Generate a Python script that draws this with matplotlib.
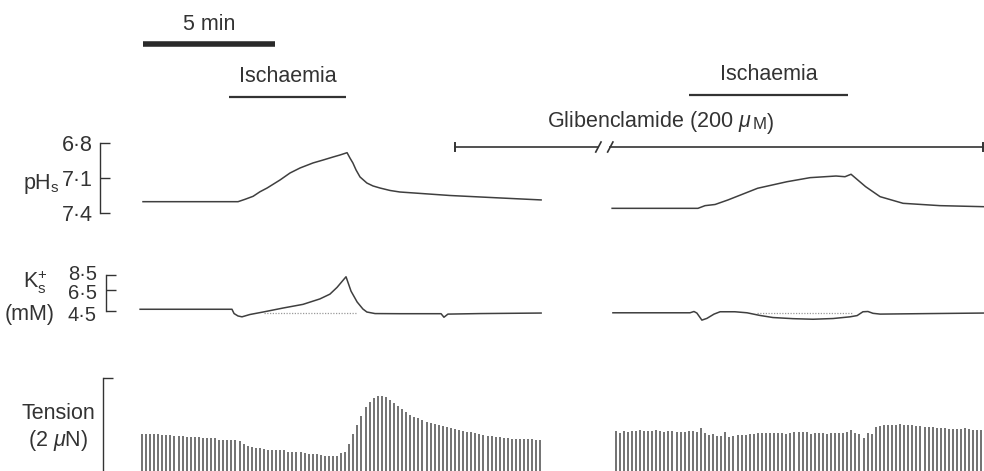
import numpy as np
import matplotlib.pyplot as plt
from matplotlib.ticker import NullLocator

plt.rcParams['font.family'] = ['Liberation Sans', 'DejaVu Sans']
plt.rcParams['mathtext.fontset'] = 'custom'
plt.rcParams['mathtext.rm'] = 'Liberation Sans'
plt.rcParams['mathtext.it'] = 'Liberation Sans:italic'

INK = '#333333'
FS = 15.5

# surface pH (time in min, record broken between control and glibenclamide runs)
ph_t1 = [0.0, 3.60, 3.86, 4.17, 4.43, 4.70, 5.19, 5.57, 5.95, 6.44, 6.82, 7.20, 7.46, 7.73,
         7.84, 7.95, 8.07, 8.22, 8.48, 8.71, 8.98, 9.36, 9.73, 11.63, 13.52, 15.08]
ph_v1 = [7.303, 7.303, 7.283, 7.257, 7.218, 7.186, 7.117, 7.057, 7.014, 6.971, 6.946, 6.920, 6.903, 6.883,
         6.929, 6.971, 7.031, 7.091, 7.143, 7.168, 7.186, 7.207, 7.220, 7.250, 7.271, 7.288]
ph_t2 = [17.77, 21.02, 21.29, 21.67, 22.16, 23.28, 24.39, 25.27, 26.25, 26.59, 26.82, 27.37, 27.92, 28.79, 30.19, 31.86]
ph_v2 = [7.360, 7.360, 7.337, 7.327, 7.288, 7.188, 7.132, 7.097, 7.083, 7.089, 7.068, 7.174, 7.260, 7.317, 7.337, 7.346]

# surface K+ (mM)
k_t1 = [-0.11, 3.37, 3.45, 3.60, 3.75, 4.05, 4.55, 5.30, 6.06, 6.70, 7.08, 7.35, 7.69, 7.88, 8.11,
        8.33, 8.48, 8.79, 9.73, 11.29, 11.40, 11.55, 12.77, 15.08]
k_v1 = [4.64, 4.64, 4.30, 4.12, 4.06, 4.23, 4.42, 4.74, 5.06, 5.57, 6.06, 6.83, 8.24, 6.39, 5.28,
        4.66, 4.42, 4.30, 4.29, 4.29, 4.03, 4.26, 4.30, 4.34]
k_t2 = [17.80, 20.72, 20.87, 20.98, 21.17, 21.36, 21.63, 21.86, 22.42, 22.88, 23.37, 23.86, 24.62,
        25.38, 26.14, 26.78, 27.05, 27.27, 27.46, 27.65, 27.92, 29.81, 31.86]
k_v2 = [4.36, 4.36, 4.46, 4.34, 3.83, 3.95, 4.26, 4.44, 4.44, 4.36, 4.16, 4.01, 3.93,
        3.89, 3.94, 4.06, 4.15, 4.44, 4.46, 4.32, 4.26, 4.30, 4.34]
k_base1 = (4.6, 8.1, 4.36)
k_base2 = (23.26, 26.86, 4.32)

# twitch tension (uN), one stimulus every 0.154 min
TWITCH_PERIOD = 0.154
ten_start1 = -0.04
ten_1 = [0.789, 0.789, 0.789, 0.785, 0.785, 0.778, 0.774, 0.768, 0.763, 0.753,
         0.746, 0.738, 0.731, 0.731, 0.725, 0.720, 0.710, 0.710, 0.699, 0.677,
         0.667, 0.677, 0.656, 0.656, 0.645, 0.570, 0.538, 0.516, 0.495, 0.484,
         0.473, 0.452, 0.452, 0.441, 0.441, 0.441, 0.419, 0.419, 0.409, 0.398,
         0.387, 0.376, 0.366, 0.355, 0.344, 0.333, 0.323, 0.323, 0.323, 0.394,
         0.415, 0.574, 0.789, 0.989, 1.183, 1.370, 1.490, 1.563, 1.613, 1.619,
         1.598, 1.527, 1.469, 1.398, 1.327, 1.262, 1.204, 1.168, 1.133, 1.097,
         1.060, 1.026, 1.004, 0.989, 0.974, 0.953, 0.931, 0.903, 0.882, 0.867,
         0.845, 0.832, 0.811, 0.789, 0.774, 0.759, 0.753, 0.738, 0.725, 0.716,
         0.703, 0.695, 0.688, 0.682, 0.682, 0.682, 0.682, 0.667, 0.667]
ten_start2 = 17.90
ten_2 = [0.867, 0.824, 0.860, 0.839, 0.854, 0.860, 0.875, 0.854, 0.860, 0.854,
         0.875, 0.867, 0.839, 0.867, 0.867, 0.845, 0.832, 0.832, 0.854, 0.867,
         0.839, 0.931, 0.811, 0.781, 0.789, 0.759, 0.759, 0.845, 0.738, 0.746,
         0.768, 0.781, 0.781, 0.796, 0.796, 0.824, 0.824, 0.824, 0.824, 0.824,
         0.824, 0.811, 0.789, 0.824,
         0.832, 0.832, 0.832, 0.832, 0.789, 0.811, 0.811, 0.811, 0.789, 0.817,
         0.811, 0.817, 0.824, 0.845, 0.882, 0.811, 0.789, 0.716, 0.811, 0.789,
         0.940, 0.974, 0.989, 0.989, 0.989, 0.996, 1.004, 0.996, 0.989, 0.989,
         0.974, 0.968, 0.946, 0.946, 0.946, 0.931, 0.925, 0.925, 0.910, 0.910,
         0.897, 0.897, 0.918, 0.897, 0.882, 0.882, 0.882]

# protocol timing (min)
scale_bar = (0.0, 5.0)
ischaemia = [(3.25, 7.7), (20.7, 26.7)]
glib_on, glib_off = 11.8, 31.8
glib_gap = (17.25, 17.7)

ph_ticks = [6.8, 7.1, 7.4]
ph_labels = ['6·8', '7·1', '7·4']
k_ticks = [8.5, 6.5, 4.5]
k_labels = ['8·5', '6·5', '4·5']

W, H = 984, 471
PX_PER_MIN = 26.4
T0_PX = 143

fig = plt.figure(figsize=(W / 100, H / 100), dpi=100, facecolor='white')


def panel():
    ax = fig.add_axes([0, 0, 1, 1])
    ax.set_xlim(-T0_PX / PX_PER_MIN, (W - T0_PX) / PX_PER_MIN)
    ax.patch.set_visible(False)
    for s in ['top', 'right', 'bottom']:
        ax.spines[s].set_visible(False)
    ax.set_xticks([])
    return ax


def place(ax, v0, row0, v1, row1, log=False):
    # put value v0 on pixel row row0 and v1 on row1 (rows counted from top)
    f = np.log if log else (lambda v: v)
    g = np.exp if log else (lambda v: v)
    a, b = f(v0), f(v1)
    k = (b - a) / (row1 - row0)
    ax.set_ylim(g(a + (H - row0) * k), g(a - row0 * k))


def bracket(ax, x_px, lo, hi, pad):
    sp = ax.spines['left']
    sp.set_position(('axes', x_px / W))
    sp.set_bounds(lo, hi)
    sp.set_color(INK)
    sp.set_linewidth(1.0)
    ax.yaxis.set_minor_locator(NullLocator())
    ax.tick_params(axis='y', direction='in', length=7, width=1.0, color=INK,
                   labelsize=FS, labelcolor=INK, pad=pad)


# annotation layer: y in pixel rows
ax_a = panel()
ax_a.set_ylim(H, 0)
ax_a.axis('off')
ax_a.plot(scale_bar, [44, 44], color='#2a2a2a', lw=4, solid_capstyle='butt')
ax_a.text(np.mean(scale_bar), 24, '5 min', ha='center', va='center', fontsize=FS, color=INK)
for (a, b), yl in zip(ischaemia, [97, 95]):
    ax_a.plot([a, b], [yl, yl], color=INK, lw=1.6, solid_capstyle='butt')
    ax_a.text((a + b) / 2, yl - 20, 'Ischaemia', ha='center', va='center', fontsize=FS, color=INK)

ax_a.plot([glib_on, glib_gap[0]], [147, 147], color=INK, lw=1.2)
ax_a.plot([glib_gap[1], glib_off], [147, 147], color=INK, lw=1.2)
ax_a.plot([glib_on, glib_on], [143, 151], color=INK, lw=1.4)
ax_a.plot([glib_off, glib_off], [143, 151], color=INK, lw=1.4)
for g in glib_gap:
    ax_a.plot([g - 0.1, g + 0.1], [152, 142], color=INK, lw=1.2)

t1 = ax_a.text(15.3, 127, r'Glibenclamide (200 $\mu$', ha='left', va='baseline',
               fontsize=FS, color=INK)
t2 = ax_a.annotate('M', xy=(1, 0), xycoords=t1, xytext=(0.5, 3.4), textcoords='offset points',
                   ha='left', va='baseline', fontsize=FS * 0.78, color=INK)
ax_a.annotate(')', xy=(1, 0), xycoords=(t2, t1), xytext=(0.5, 0), textcoords='offset points',
              ha='left', va='bottom', fontsize=FS, color=INK)

# pH panel
ax_p = panel()
place(ax_p, 6.8, 143, 7.4, 213)
ax_p.plot(ph_t1, ph_v1, color='#3f3f3f', lw=1.1)
ax_p.plot(ph_t2, ph_v2, color='#3f3f3f', lw=1.1)
bracket(ax_p, 100, 6.8, 7.4, 5)
ax_p.set_yticks(ph_ticks)
ax_p.set_yticklabels(ph_labels)
fig.text(60 / W, 1 - 189 / H, r'pH$_{\mathrm{s}}$', ha='right', va='baseline', fontsize=FS, color=INK)

# K+ panel (log electrode response)
ax_k = panel()
ax_k.set_yscale('log')
place(ax_k, 4.5, 311, 8.5, 275, log=True)
ax_k.plot(k_t1, k_v1, color='#3f3f3f', lw=1.1)
ax_k.plot(k_t2, k_v2, color='#3f3f3f', lw=1.1)
for a, b, v in [k_base1, k_base2]:
    ax_k.plot([a, b], [v, v], color='#9a9a9a', lw=0.9, ls=(0, (1, 1.2)))
bracket(ax_k, 106, 4.5, 8.5, 8)
ax_k.set_yticks(k_ticks)
ax_k.set_yticklabels([''] * len(k_ticks))
# the three labels are packed tightly, the lower two sit a little below their ticks
for v, lab, dy in zip(k_ticks, k_labels, [0.5, -2.5, -3.0]):
    ax_k.annotate(lab, xy=(97 / W, v), xycoords=('figure fraction', 'data'),
                  xytext=(0, dy), textcoords='offset points',
                  ha='right', va='center', fontsize=FS - 1, color=INK)
fig.text(35 / W, 1 - 288 / H, r'K$^{+}_{\mathrm{s}}$', ha='center', va='baseline', fontsize=FS, color=INK)
fig.text(30 / W, 1 - 320 / H, '(mM)', ha='center', va='baseline', fontsize=FS, color=INK)

# tension panel
ax_t = panel()
place(ax_t, 0.0, H, 2.0, 378)
tt1 = ten_start1 + TWITCH_PERIOD * np.arange(len(ten_1))
tt2 = ten_start2 + TWITCH_PERIOD * np.arange(len(ten_2))
ax_t.vlines(tt1, 0, ten_1, color='#5a5a5a', lw=1.2)
ax_t.vlines(tt2, 0, ten_2, color='#5a5a5a', lw=1.2)
bracket(ax_t, 103, 0, 2.0, 5)
ax_t.set_yticks([2.0])
ax_t.set_yticklabels([''])
fig.text(95 / W, 1 - 419 / H, 'Tension', ha='right', va='baseline', fontsize=FS, color=INK)
fig.text(58 / W, 1 - 446 / H, r'(2 $\mu$N)', ha='center', va='baseline', fontsize=FS, color=INK)

fig.savefig('out.png', dpi=100, facecolor='white')
